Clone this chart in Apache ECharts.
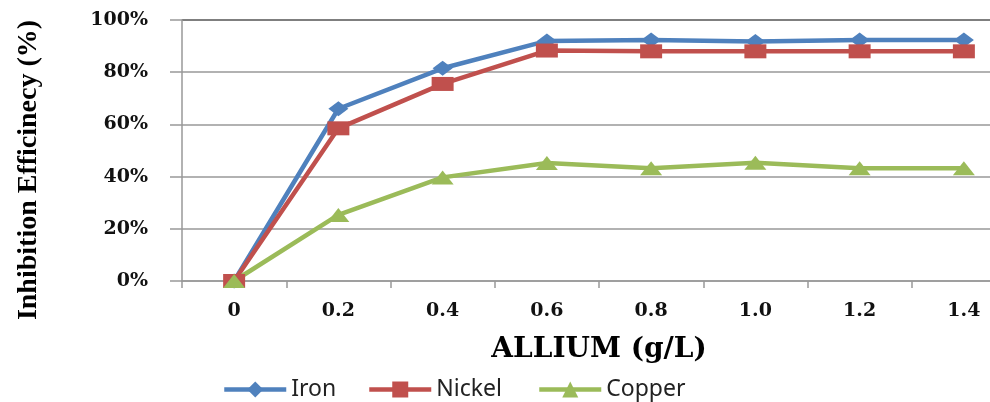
<!DOCTYPE html>
<html>
<head>
<meta charset="utf-8">
<script src="https://cdn.jsdelivr.net/npm/echarts@6/dist/echarts.min.js"></script>
<style>html,body{margin:0;padding:0;background:#fff;overflow:hidden;width:990px;height:402px}#c{width:1016px;height:402px}</style>
</head>
<body>
<div id="c"></div>
<script>
var categories = ['0', '0.2', '0.4', '0.6', '0.8', '1.0', '1.2', '1.4'];
var iron = [0, 66, 81.5, 92, 92.3, 91.8, 92.3, 92.3];
var nickel = [0, 58.5, 75.5, 88.3, 88, 88, 88, 88];
var copper = [0, 25.3, 39.7, 45.2, 43.2, 45.3, 43.2, 43.2];
var yTicks = [0, 20, 40, 60, 80, 100];
var seriesNames = ['Iron', 'Nickel', 'Copper'];
var xTitle = 'ALLIUM (g/L)';
var yTitle = 'Inhibition Efficinecy (%)';

var colors = ['#4F81BD', '#C0504D', '#9BBB59'];
var chart = echarts.init(document.getElementById('c'), null, {renderer: 'canvas'});
var legendText = {fontFamily: 'Noto Sans', fontSize: 23, color: '#222'};
function mkLegend(name, left) {
  return {data: [name], left: left, top: 378, itemWidth: 62, itemHeight: 20,
    itemGap: 0, textStyle: legendText, padding: 0, lineStyle: {width: 4.5}};
}
var option = {
  animation: false,
  color: colors,
  grid: {left: 182, top: 20, right: 0, bottom: 121, containLabel: false},
  legend: [mkLegend(seriesNames[0], 222), mkLegend(seriesNames[1], 367), mkLegend(seriesNames[2], 537)],
  graphic: [{
    type: 'text', x: 29, y: 170, rotation: Math.PI / 2,
    style: {text: yTitle, fontFamily: 'Liberation Serif', fontWeight: 'bold', fontSize: 28,
      fill: '#000', textAlign: 'center', textVerticalAlign: 'middle'}
  }],
  xAxis: {
    type: 'category', data: categories, boundaryGap: true,
    name: xTitle, nameLocation: 'middle', nameGap: 55,
    nameTextStyle: {fontFamily: 'DejaVu Serif', fontWeight: 'bold', fontSize: 28, color: '#000'},
    axisLine: {show: true, lineStyle: {color: '#999', width: 1.5}},
    axisTick: {show: true, length: 7, lineStyle: {color: '#999', width: 1.5}},
    axisLabel: {margin: 21, fontFamily: 'DejaVu Serif', fontWeight: 'bold', fontSize: 19, color: '#111'}
  },
  yAxis: {
    type: 'value', min: yTicks[0], max: yTicks[yTicks.length - 1], interval: yTicks[1] - yTicks[0],
    axisLine: {show: true, lineStyle: {color: '#999', width: 1.5}},
    axisTick: {show: true, length: 12, lineStyle: {color: '#999', width: 1.5}},
    splitLine: {show: true, lineStyle: {color: ['#999', '#999', '#999', '#999', '#999', '#555'], width: 1.5}},
    axisLabel: {margin: 34, formatter: '{value}%', fontFamily: 'DejaVu Serif', fontWeight: 'bold', fontSize: 19, color: '#111'}
  },
  series: [
    {name: seriesNames[0], type: 'line', data: iron, symbol: 'diamond', symbolSize: [20, 15],
      lineStyle: {width: 4.5}, itemStyle: {color: colors[0]}},
    {name: seriesNames[1], type: 'line', data: nickel, symbol: 'rect', symbolSize: [22, 14],
      lineStyle: {width: 4.5}, itemStyle: {color: colors[1]}},
    {name: seriesNames[2], type: 'line', data: copper, symbol: 'triangle', symbolSize: [22, 14],
      lineStyle: {width: 4.5}, itemStyle: {color: colors[2]}}
  ]
};
chart.setOption(option);
</script>
</body>
</html>
